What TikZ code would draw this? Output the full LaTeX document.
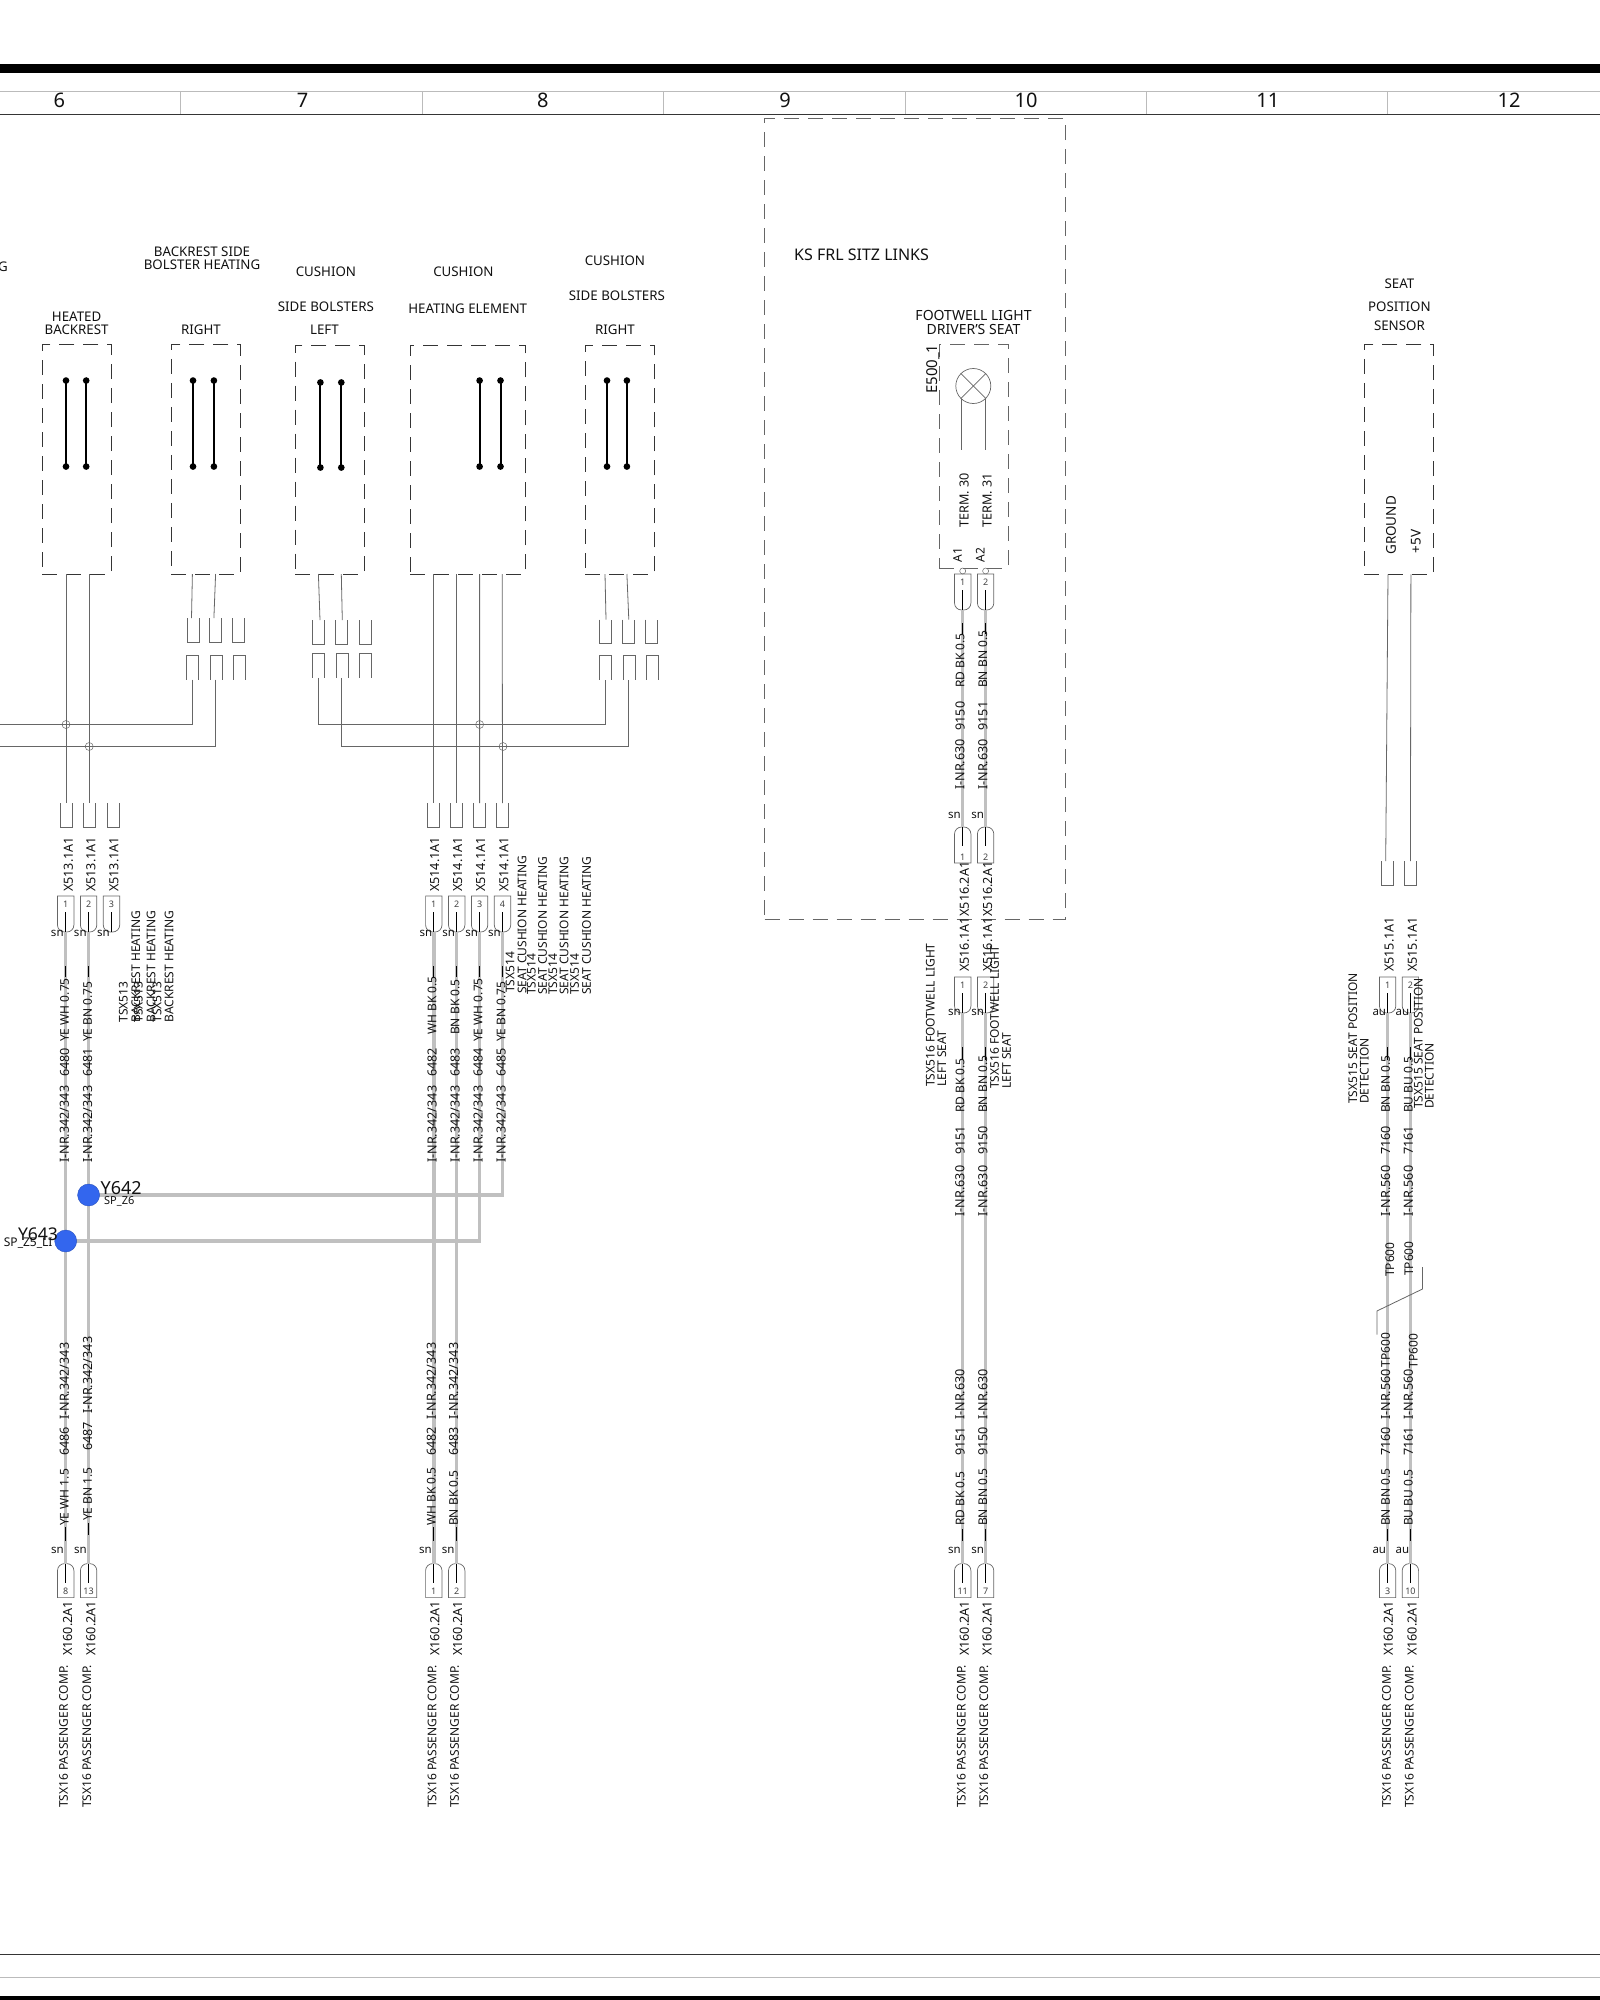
\documentclass[tikz,border=0pt]{standalone}
\usepackage{fontspec}
\setmainfont{Noto Sans}
\usetikzlibrary{arrows.meta}
\definecolor{wiregrey}{HTML}{C0C0C0}
\definecolor{linegrey}{HTML}{666666}
\definecolor{framegrey}{HTML}{BBBBBB}
\definecolor{spotblue}{HTML}{3366EE}
\definecolor{inkcolour}{HTML}{111111}

\tikzset{
  vlab/.style={rotate=90,anchor=west,inner sep=0pt,text=inkcolour,font=\fontsize{12}{12}\selectfont},
  vnum/.style={vlab,font=\fontsize{12.6}{12.6}\selectfont},
  hlab/.style={inner sep=0pt,text=inkcolour,font=\fontsize{13.3}{13.3}\selectfont},
  collab/.style={hlab,font=\fontsize{20}{20}\selectfont},
  snlab/.style={inner sep=0pt,text=inkcolour,font=\fontsize{11.5}{11.5}\selectfont},
  pinnum/.style={inner sep=0pt,text=inkcolour!80,font=\fontsize{9}{9}\selectfont},
  dashbox/.style={draw=inkcolour!85,line width=0.7pt,dash pattern=on 15pt off 9pt,inner sep=0pt,outer sep=0pt},
  pinline/.style={draw=linegrey,line width=0.7pt},
  wirethin/.style={draw=linegrey,line width=0.8pt},
  wirethick/.style={draw=wiregrey,line width=3.4pt},
  blackline/.style={draw=black,line width=0.9pt},
  heatbar/.style={draw=black,line width=2pt,{Circle[length=6.5pt]}-{Circle[length=6.5pt]}},
  crossmark/.style={circle,draw=linegrey,line width=0.5pt,minimum size=8pt,inner sep=0pt},
  spotdot/.style={circle,fill=spotblue,draw=spotblue!80!black,line width=0.4pt,minimum size=22pt,inner sep=0pt}
}

% pin with the round end below: name, x, top, number
\newcommand{\pinbot}[4]{%
  \coordinate (#1) at (#2,#3+36);
  \draw[pinline] (#2,#3) ++(-8.2,0) -- ++(16.4,0) [rounded corners=7pt] -- ++(0,36) -- ++(-16.4,0) [sharp corners] -- cycle;
  \node (#1n) [pinnum] at (#2,#3+8) {#4};
  \draw[blackline] (#1) -- ++(0,-20);
}
% pin with the round end above: name, x, top, height, number
\newcommand{\pintop}[5]{%
  \coordinate (#1) at (#2,#3);
  \draw[pinline] (#2,#3+#4) ++(-8.2,0) -- ++(16.4,0) [rounded corners=7pt] -- ++(0,-#4) -- ++(-16.4,0) [sharp corners] -- cycle;
  \node (#1n) [pinnum] at (#2,#3+#4-6) {#5};
  \draw[blackline] (#1) -- ++(0,19);
}
% open connector halves: name, wire x, left edge, mouth y
\newcommand{\cupopen}[4]{%
  \coordinate (#1) at (#2,#4);
  \draw[pinline] (#3,#4) -- ++(0,24) -- ++(12,0) -- ++(0,-24);
}
\newcommand{\capopen}[4]{%
  \coordinate (#1) at (#2,#4);
  \draw[pinline] (#3,#4) -- ++(0,-24) -- ++(12,0) -- ++(0,24);
}
% three labels along one wire: name, x, three bottoms, three texts
\newcommand{\wirelabs}[8]{%
  \node (#1a) [vnum] at (#2,#3) {#6};
  \node (#1b) [vnum] at (#2,#4) {#7};
  \node (#1c) [vlab] at (#2,#5) {#8};
}

\begin{document}
\begin{tikzpicture}[x=1pt,y=-1pt]
\useasboundingbox (0,0) rectangle (1600,2000);

% Title bars
\fill[black] (0,64) rectangle (1600,73);
\draw[framegrey,line width=0.9pt] (0,91.3) -- (1600,91.3);
\draw[inkcolour!85,line width=0.9pt] (0,114.3) -- (1600,114.3);
\draw[framegrey,line width=0.7pt] (180.4,91.3) -- (180.4,114.3);
\draw[framegrey,line width=0.7pt] (422.3,91.3) -- (422.3,114.3);
\draw[framegrey,line width=0.7pt] (663.4,91.3) -- (663.4,114.3);
\draw[framegrey,line width=0.7pt] (905,91.3) -- (905,114.3);
\draw[framegrey,line width=0.7pt] (1146.6,91.3) -- (1146.6,114.3);
\draw[framegrey,line width=0.7pt] (1387.3,91.3) -- (1387.3,114.3);
\node (col6) [collab] at (59.4,100.5) {6};
\node (col7) [collab] at (302.7,100.5) {7};
\node (col8) [collab] at (542.9,100.5) {8};
\node (col9) [collab] at (785,100.5) {9};
\node (col10) [collab] at (1026,100.5) {10};
\node (col11) [collab] at (1267.9,100.5) {11};
\node (col12) [collab] at (1509,100.5) {12};
% Foot bars
\draw[inkcolour!85,line width=0.9pt] (0,1954) -- (1600,1954);
\draw[framegrey,line width=0.9pt] (0,1977.3) -- (1600,1977.3);
\fill[black] (0,1995.7) rectangle (1600,2000);

% Module boxes
\node (heatback) [dashbox,minimum width=69pt,minimum height=230pt] at (76.9,459) {};
\node (sideback) [dashbox,minimum width=69.6pt,minimum height=230pt] at (206,459) {};
\node (sideleft) [dashbox,minimum width=69.2pt,minimum height=229pt] at (329.6,459.5) {};
\node (heatcush) [dashbox,minimum width=115.4pt,minimum height=229pt] at (467.7,459.5) {};
\node (sideright) [dashbox,minimum width=69.4pt,minimum height=229pt] at (619.7,459.5) {};
\node (ksbox) [dashbox,draw=linegrey,minimum width=301pt,minimum height=800.3pt] at (915,518.9) {};
\node (footbox) [dashbox,draw=linegrey,minimum width=69.1pt,minimum height=223.7pt] at (973.85,456.2) {};
\node (seatbox) [dashbox,minimum width=69.7pt,minimum height=230pt] at (1398.9,459.3) {};

% Module titles
\node (tg) [hlab,anchor=west] at (-2,266.5) {G};
\node (tb1) [hlab] at (76.6,317) {HEATED};
\node (tb2) [hlab] at (76.6,329.5) {BACKREST};
\node (ts1) [hlab] at (202,251.9) {BACKREST SIDE};
\node (ts2) [hlab] at (202,265) {BOLSTER HEATING};
\node (ts3) [hlab] at (201,329.5) {RIGHT};
\node (tl1) [hlab] at (325.9,271.5) {CUSHION};
\node (tl2) [hlab] at (325.9,306.6) {SIDE BOLSTERS};
\node (tl3) [hlab] at (324.4,329.5) {LEFT};
\node (tc1) [hlab] at (463.4,271.8) {CUSHION};
\node (tc2) [hlab] at (467.7,308.6) {HEATING ELEMENT};
\node (tr1) [hlab] at (614.9,260.3) {CUSHION};
\node (tr2) [hlab] at (616.9,295.7) {SIDE BOLSTERS};
\node (tr3) [hlab] at (614.9,329.5) {RIGHT};
\node (tks) [hlab,anchor=west,font=\fontsize{16}{16}\selectfont] at (794,255) {KS FRL SITZ LINKS};
\node (tf1) [hlab,font=\fontsize{14}{14}\selectfont] at (973.5,315) {FOOTWELL LIGHT};
\node (tf2) [hlab,font=\fontsize{14}{14}\selectfont] at (973.5,329) {DRIVER'S SEAT};
\node (tp1) [hlab] at (1399.4,284) {SEAT};
\node (tp2) [hlab] at (1399.4,306.7) {POSITION};
\node (tp3) [hlab] at (1399.4,325.7) {SENSOR};

% Heating elements
\draw[heatbar] (66,377.3) -- (66,469.8);
\draw[heatbar] (86.2,377.3) -- (86.2,469.8);
\draw[heatbar] (193,377.3) -- (193,469.8);
\draw[heatbar] (213.9,377.3) -- (213.9,469.8);
\draw[heatbar] (320.4,379.2) -- (320.4,470.8);
\draw[heatbar] (341.3,379.2) -- (341.3,470.8);
\draw[heatbar] (479.6,377.3) -- (479.6,469.8);
\draw[heatbar] (500.5,377.3) -- (500.5,469.8);
\draw[heatbar] (607,377.3) -- (607,469.8);
\draw[heatbar] (626.9,377.3) -- (626.9,469.8);

% Side bolster connectors
\cupopen{bsa}{191.5}{187.5}{618}
\cupopen{bsb}{213.9}{209.2}{618}
\cupopen{bsc}{238.5}{232.5}{618}
\capopen{bpa}{192.4}{186.6}{679.6}
\capopen{bpb}{215.6}{210.2}{679.6}
\capopen{bpc}{239}{233}{679.6}
\cupopen{lsa}{320}{312.4}{620}
\cupopen{lsb}{342.3}{335.3}{620}
\cupopen{lsc}{365}{359.2}{620}
\capopen{lpa}{318.4}{312.4}{677.8}
\capopen{lpb}{341.3}{336.3}{677.8}
\capopen{lpc}{365}{359.2}{677.8}
\cupopen{rsa}{606}{599}{619.6}
\cupopen{rsb}{628.8}{622}{619.6}
\cupopen{rsc}{652}{645.8}{619.6}
\capopen{rpa}{605}{599}{679.7}
\capopen{rpb}{628.8}{623}{679.7}
\capopen{rpc}{652}{646.7}{679.7}
\draw[wirethin] ([xshift=-13.6pt]sideback.south) -- (bsa);
\draw[wirethin] ([xshift=9.6pt]sideback.south) -- (bsb);
\draw[wirethin] ([xshift=-11.2pt]sideleft.south) -- (lsa);
\draw[wirethin] ([xshift=11.7pt]sideleft.south) -- (lsb);
\draw[wirethin] ([xshift=-14.7pt]sideright.south) -- (rsa);
\draw[wirethin] ([xshift=7.2pt]sideright.south) -- (rsb);

% Cross connections
\coordinate (busa) at (0,724.5);
\coordinate (busb) at (0,746.5);
\draw[wirethin] (bpa) -- ++(0,44.9) -- (busa);
\draw[wirethin] (bpb) -- ++(0,66.9) -- (busb);
\draw[wirethin] (lpa) -- ++(0,46.7) -| (rpa);
\draw[wirethin] (lpb) -- ++(0,68.7) -| (rpb);

% Heated backrest to X513
\cupopen{hsa}{66}{60.2}{803}
\cupopen{hsb}{89.2}{83.6}{803}
\cupopen{hsc}{113.5}{107.5}{803}
\draw[wirethin] ([xshift=-10.9pt]heatback.south) -- (hsa);
\draw[wirethin] ([xshift=12.3pt]heatback.south) -- (hsb);
\node (xa) [crossmark] at (66,724.5) {};
\node (xb) [crossmark] at (89.2,746.5) {};

% Cushion heating to X514
\cupopen{csa}{433.4}{426.9}{803}
\cupopen{csb}{456.7}{450.7}{803}
\cupopen{csc}{479.6}{473.2}{803}
\cupopen{csd}{502.5}{496.5}{803}
\draw[wirethin] ([xshift=-34.3pt]heatcush.south) -- (csa);
\draw[wirethin] ([xshift=-11pt]heatcush.south) -- (csb);
\draw[wirethin] ([xshift=11.9pt]heatcush.south) -- (csc);
\draw[wirethin] ([xshift=34.5pt]heatcush.south) -- (csd);
\node (xc) [crossmark] at (479.6,724.5) {};
\node (xd) [crossmark] at (503,746.5) {};

% Pins X513, X514
\pinbot{pa}{65.7}{896}{1}
\pinbot{pb}{88.6}{896}{2}
\pinbot{pc}{111.5}{896}{3}
\pinbot{qa}{433.8}{896}{1}
\pinbot{qb}{456.7}{896}{2}
\pinbot{qc}{479.6}{896}{3}
\pinbot{qd}{502.5}{896}{4}

% Pins X160
\pintop{ga}{65.7}{1563.6}{34}{8}
\pintop{gb}{88.6}{1563.6}{34}{13}
\pintop{gc}{433.8}{1563.6}{34}{1}
\pintop{gd}{456.7}{1563.6}{34}{2}
\pintop{ge}{962.7}{1563.6}{34}{11}
\pintop{gf}{985.6}{1563.6}{34}{7}
\pintop{gg}{1387.6}{1563.6}{34}{3}
\pintop{gh}{1410.4}{1563.6}{34}{10}

% Footwell light
\node (lamp) [circle,draw=linegrey,line width=0.7pt,minimum size=35pt,inner sep=0pt] at (973.3,386) {};
\draw[pinline] (lamp.45) -- (lamp.225);
\draw[pinline] (lamp.135) -- (lamp.315);
\draw[pinline] (lamp.229) -- ++(0,50.5);
\draw[pinline] (lamp.311) -- ++(0,50.5);
\node (cona) [circle,draw=linegrey,line width=0.5pt,minimum size=6pt,inner sep=0pt] at (962.7,571) {};
\node (conb) [circle,draw=linegrey,line width=0.5pt,minimum size=6pt,inner sep=0pt] at (985.6,571) {};
\pinbot{fa}{962.7}{574}{1}
\pinbot{fb}{985.6}{574}{2}
\pintop{ma}{962.7}{827}{36}{1}
\pintop{mb}{985.6}{827}{36}{2}
\pinbot{na}{962.7}{977}{1}
\pinbot{nb}{985.6}{977}{2}

% Seat position sensor
\cupopen{ssa}{1385.7}{1381.6}{861}
\cupopen{ssb}{1410.4}{1404.2}{861}
\draw[wirethin] ([xshift=-10.9pt]seatbox.south) -- (ssa);
\draw[wirethin] ([xshift=12pt]seatbox.south) -- (ssb);
\pinbot{ta}{1387.6}{977}{1}
\pinbot{tb}{1410.4}{977}{2}

% Signal wires
\draw[wirethick] (pa) -- (ga);
\draw[wirethick] (pb) -- (gb);
\draw[wirethick] (qa) -- (gc);
\draw[wirethick] (qb) -- (gd);
\coordinate (spsix) at (88.6,1195);
\coordinate (spfive) at (65.7,1241);
\draw[wirethick] (qc) |- (spfive);
\draw[wirethick] (qd) |- (spsix);
\draw[wirethick] (fa) -- (ma);
\draw[wirethick] (fb) -- (mb);
\draw[wirethick] (na) -- (ge);
\draw[wirethick] (nb) -- (gf);
\draw[wirethick] (ta) -- (gg);
\draw[wirethick] (tb) -- (gh);
\node (yb) [spotdot] at (spsix) {};
\node (ya) [spotdot] at (spfive) {};
\node (ybt) [hlab,anchor=west,font=\fontsize{18}{18}\selectfont] at (100.5,1188) {Y642};
\node (ybs) [hlab,anchor=west,font=\fontsize{11}{11}\selectfont] at (104,1201) {SP\_Z6};
\node (yat) [hlab,anchor=east,font=\fontsize{17.5}{17.5}\selectfont] at (58.2,1234) {Y643};
\node (yas) [hlab,anchor=east,font=\fontsize{12}{12}\selectfont] at (52.7,1243) {SP\_Z5\_LI};

% Twisted pair mark
\coordinate (tpbot) at (1376.9,1334.5);
\coordinate (tptop) at (1422.5,1267);
\draw[wirethin] (tpbot) -- ++(0,-23.5) -- (1422.5,1289) -- (tptop);

% Short marks on the wires
\draw[blackline] (65.7,966) -- (65.7,977);
\draw[blackline] (88.6,966) -- (88.6,977);
\draw[blackline] (433.8,966) -- (433.8,977);
\draw[blackline] (456.7,966) -- (456.7,977);
\draw[blackline] (479.6,966) -- (479.6,977);
\draw[blackline] (502.5,966) -- (502.5,977);
\draw[blackline] (65.7,1527) -- (65.7,1541);
\draw[blackline] (88.6,1523) -- (88.6,1535);
\draw[blackline] (433.8,1527) -- (433.8,1541);
\draw[blackline] (456.7,1527) -- (456.7,1541);
\draw[blackline] (962.7,623) -- (962.7,634);
\draw[blackline] (985.6,623) -- (985.6,634);
\draw[blackline] (962.7,1047) -- (962.7,1060);
\draw[blackline] (985.6,1047) -- (985.6,1060);
\draw[blackline] (1387.6,1047) -- (1387.6,1060);
\draw[blackline] (1410.4,1047) -- (1410.4,1060);
\draw[blackline] (962.7,1529) -- (962.7,1541);
\draw[blackline] (985.6,1529) -- (985.6,1541);
\draw[blackline] (1387.6,1529) -- (1387.6,1541);
\draw[blackline] (1410.4,1529) -- (1410.4,1541);

% sn and au marks
\node (sa) [snlab] at (57.3,933) {sn};
\node (sb) [snlab] at (80.3,933) {sn};
\node (sc) [snlab] at (103.5,933) {sn};
\node (sd) [snlab] at (425.9,933) {sn};
\node (se) [snlab] at (448.7,933) {sn};
\node (sf) [snlab] at (471.6,933) {sn};
\node (sg) [snlab] at (494.5,933) {sn};
\node (sh) [snlab] at (57.5,1550.6) {sn};
\node (si) [snlab] at (80.4,1550.6) {sn};
\node (sj) [snlab] at (425.4,1550.6) {sn};
\node (sk) [snlab] at (448.2,1550.6) {sn};
\node (sl) [snlab] at (954.3,1550.6) {sn};
\node (sm) [snlab] at (977.6,1550.6) {sn};
\node (sn) [snlab] at (1379.3,1550.6) {au};
\node (so) [snlab] at (1402.5,1550.6) {au};
\node (sp) [snlab] at (954.3,815.7) {sn};
\node (sq) [snlab] at (977.6,815.7) {sn};
\node (sr) [snlab] at (954.3,1012.7) {sn};
\node (ss) [snlab] at (977.6,1012.7) {sn};
\node (st) [snlab] at (1379.3,1012.7) {au};
\node (su) [snlab] at (1402.5,1012.7) {au};

% Wire labels X513, X514
\wirelabs{wa}{64.5}{1163}{1077}{1042}{I-NR.342/343}{6480}{YE WH 0.75}
\wirelabs{wb}{87.6}{1163}{1077}{1042}{I-NR.342/343}{6481}{YE BN 0.75}
\wirelabs{wc}{432.2}{1163}{1077}{1035}{I-NR.342/343}{6482}{WH BK 0.5}
\wirelabs{wd}{455.2}{1163}{1077}{1035}{I-NR.342/343}{6483}{BN BK 0.5}
\wirelabs{we}{478.1}{1163}{1077}{1042}{I-NR.342/343}{6484}{YE WH 0.75}
\wirelabs{wf}{501.1}{1163}{1077}{1042}{I-NR.342/343}{6485}{YE BN 0.75}
% Wire labels X160
\wirelabs{wg}{64.3}{1420}{1456}{1526}{I-NR.342/343}{6486}{YE WH 1.5}
\wirelabs{wh}{87.6}{1414}{1451}{1521}{I-NR.342/343}{6487}{YE BN 1.5}
\wirelabs{wi}{431.4}{1420}{1456}{1526}{I-NR.342/343}{6482}{WH BK 0.5}
\wirelabs{wj}{453.7}{1420}{1456}{1526}{I-NR.342/343}{6483}{BN BK 0.5}
% Wire labels footwell light
\wirelabs{wk}{960}{790}{730.7}{688}{I-NR.630}{9150}{RD BK 0.5}
\wirelabs{wl}{982.9}{790}{730.7}{688}{I-NR.630}{9151}{BN BN 0.5}
\wirelabs{wm}{960}{1216.7}{1155}{1113}{I-NR.630}{9151}{RD BK 0.5}
\wirelabs{wn}{982.9}{1216.7}{1155}{1113}{I-NR.630}{9150}{BN BN 0.5}
\wirelabs{wo}{960}{1420}{1456}{1526}{I-NR.630}{9151}{RD BK 0.5}
\wirelabs{wp}{982.9}{1420}{1456}{1526}{I-NR.630}{9150}{BN BN 0.5}
% Wire labels seat position
\wirelabs{wq}{1385.6}{1216.7}{1155}{1113}{I-NR.560}{7160}{BN BN 0.5}
\wirelabs{wr}{1408.4}{1216.7}{1155}{1113}{I-NR.560}{7161}{BU BU 0.5}
\wirelabs{ws}{1385.6}{1420}{1456}{1526}{I-NR.560}{7160}{BN BN 0.5}
\wirelabs{wt}{1408.4}{1420}{1456}{1526}{I-NR.560}{7161}{BU BU 0.5}
\node (tpa) [vlab] at (1389.8,1277) {TP600};
\node (tpb) [vlab] at (1408.9,1276) {TP600};
\node (tpc) [vlab] at (1385.5,1367.5) {TP600};
\node (tpd) [vlab] at (1413.3,1368.5) {TP600};

% Connector names X513, X514
\node (xna) [vnum] at (68.5,892) {X513.1A1};
\node (xnb) [vnum] at (90.9,892) {X513.1A1};
\node (xnc) [vnum] at (113.9,892) {X513.1A1};
\node (xnd) [vnum] at (434.8,892) {X514.1A1};
\node (xne) [vnum] at (457.7,892) {X514.1A1};
\node (xnf) [vnum] at (480.6,892) {X514.1A1};
\node (xng) [vnum] at (503.9,892) {X514.1A1};
% Connector names X160
\node (xnh) [vnum] at (67.7,1656) {X160.2A1};
\node (xni) [vnum] at (91,1656) {X160.2A1};
\node (xnj) [vnum] at (434.8,1656) {X160.2A1};
\node (xnk) [vnum] at (457.7,1656) {X160.2A1};
\node (xnl) [vnum] at (964.3,1656) {X160.2A1};
\node (xnm) [vnum] at (987.2,1656) {X160.2A1};
\node (xnn) [vnum] at (1388.5,1656) {X160.2A1};
\node (xno) [vnum] at (1412.1,1656) {X160.2A1};
\node (pca) [vlab] at (63.7,1808) {TSX16 PASSENGER COMP.};
\node (pcb) [vlab] at (86.8,1808) {TSX16 PASSENGER COMP.};
\node (pcc) [vlab] at (432.1,1808) {TSX16 PASSENGER COMP.};
\node (pcd) [vlab] at (454.7,1808) {TSX16 PASSENGER COMP.};
\node (pce) [vlab] at (961.4,1808) {TSX16 PASSENGER COMP.};
\node (pcf) [vlab] at (983.9,1808) {TSX16 PASSENGER COMP.};
\node (pcg) [vlab] at (1386.5,1808) {TSX16 PASSENGER COMP.};
\node (pch) [vlab] at (1409.4,1808) {TSX16 PASSENGER COMP.};
% Connector names X515, X516
\node (xnp) [vnum] at (964.3,916.7) {X516.2A1};
\node (xnq) [vnum] at (987.6,916.7) {X516.2A1};
\node (xnr) [vnum] at (964.3,972) {X516.1A1};
\node (xns) [vnum] at (987.6,972) {X516.1A1};
\node (xnt) [vnum] at (1389.2,972) {X515.1A1};
\node (xnu) [vnum] at (1412.4,972) {X515.1A1};

% Harness names TSX513
\node (ha) [vlab] at (123.4,1022.7) {TSX513};
\node (hb) [vlab] at (135.8,1022.7) {BACKREST HEATING};
\node (hc) [vlab] at (138.3,1022.7) {TSX513};
\node (hd) [vlab] at (151.2,1022.7) {BACKREST HEATING};
\node (he) [vlab] at (157.2,1022.7) {TSX513};
\node (hf) [vlab] at (169.2,1022.7) {BACKREST HEATING};
% Harness names TSX514
\node (hg) [vlab] at (510.1,993) {TSX514};
\node (hh) [vlab] at (522,994) {SEAT CUSHION HEATING};
\node (hi) [vlab] at (531.3,995) {TSX514};
\node (hj) [vlab] at (542.6,995) {SEAT CUSHION HEATING};
\node (hk) [vlab] at (552.8,995) {TSX514};
\node (hl) [vlab] at (564.2,995) {SEAT CUSHION HEATING};
\node (hm) [vlab] at (574.6,995) {TSX514};
\node (hn) [vlab] at (586.5,995) {SEAT CUSHION HEATING};
% Harness names TSX515, TSX516
\node (ho) [vlab] at (930.3,1087) {TSX516 FOOTWELL LIGHT};
\node (hp) [vlab] at (941.8,1087) {LEFT SEAT};
\node (hq) [vlab] at (994.5,1089) {TSX516 FOOTWELL LIGHT};
\node (hr) [vlab] at (1006.5,1089) {LEFT SEAT};
\node (hs) [vlab] at (1352.7,1104) {TSX515 SEAT POSITION};
\node (ht) [vlab] at (1364.3,1104) {DETECTION};
\node (hu) [vlab] at (1418.4,1109) {TSX515 SEAT POSITION};
\node (hv) [vlab] at (1429.3,1109) {DETECTION};

% Texts inside the modules
\node (lampid) [vlab,font=\fontsize{15}{15}\selectfont] at (933.7,394) {E500\_1};
\node (terma) [vnum] at (964.2,528) {TERM. 30};
\node (termb) [vnum] at (987.2,528) {TERM. 31};
\node (pina) [vlab] at (957.6,562.7) {A1};
\node (pinb) [vlab] at (980.3,562.7) {A2};
\node (gnd) [vlab,font=\fontsize{13.5}{13.5}\selectfont] at (1391,555) {GROUND};
\node (plus) [vlab,font=\fontsize{13.5}{13.5}\selectfont] at (1415.8,553.3) {+5V};

\end{tikzpicture}
\end{document}
